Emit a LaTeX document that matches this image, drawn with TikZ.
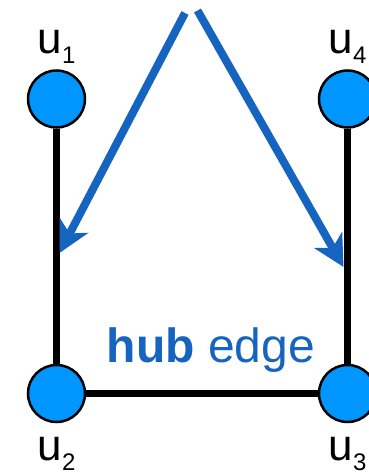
\documentclass[tikz,border=0pt]{standalone}
\usepackage{fontspec}
\setmainfont{Liberation Sans}
\usetikzlibrary{positioning,arrows.meta}
\definecolor{hubblue}{RGB}{21,101,192}
\definecolor{vertexblue}{RGB}{0,150,255}
% vertex name with a lowered index
\newcommand{\ulab}[1]{u\raisebox{-10.5pt}{\fontsize{24}{24}\selectfont #1}}

\begin{document}
\begin{tikzpicture}[x=1pt,y=-1pt,
  vertex/.style={circle,draw=black,line width=2.5pt,fill=vertexblue,minimum size=57pt,inner sep=0pt},
  vlab/.style={font=\fontsize{44}{44}\selectfont,inner sep=0pt,anchor=base},
  edge/.style={line width=7.5pt},
  hubtext/.style={hubblue,font=\fontsize{48}{48}\selectfont,inner sep=0pt,anchor=base,xshift=9pt,yshift=31.5pt},
  pointer/.style={hubblue,line width=8pt,-{Stealth[length=31pt,width=32pt,inset=9pt]}}]
\clip (0,0) rectangle (369,476);
\node[vertex] (u1) at (56.5,99) {};
\node[vertex] (u2) at (56.5,393.5) {};
\node[vertex] (u3) at (347.5,393.5) {};
\node[vertex] (u4) at (347.5,99) {};
\node[vlab] (l1) at ([yshift=16pt]u1.north) {\ulab{1}};
\node[vlab] (l2) at ([yshift=-37pt]u2.south) {\ulab{2}};
\node[vlab] (l3) at ([yshift=-37pt]u3.south) {\ulab{3}};
\node[vlab] (l4) at ([yshift=16pt]u4.north) {\ulab{4}};
\draw[edge] (u1) -- (u2);
\draw[edge] (u4) -- (u3);
\draw[edge] (u2) -- node[hubtext] (hub) {\textbf{hub} edge} (u3);
% the two pointers from the top
\coordinate (apexL) at (185,13);
\coordinate (apexR) at (197.5,10.5);
\coordinate (hitL) at (59.5,253);
\coordinate (hitR) at (343.5,267);
\draw[pointer] (apexL) -- (hitL);
\draw[pointer] (apexR) -- (hitR);
\end{tikzpicture}
\end{document}
